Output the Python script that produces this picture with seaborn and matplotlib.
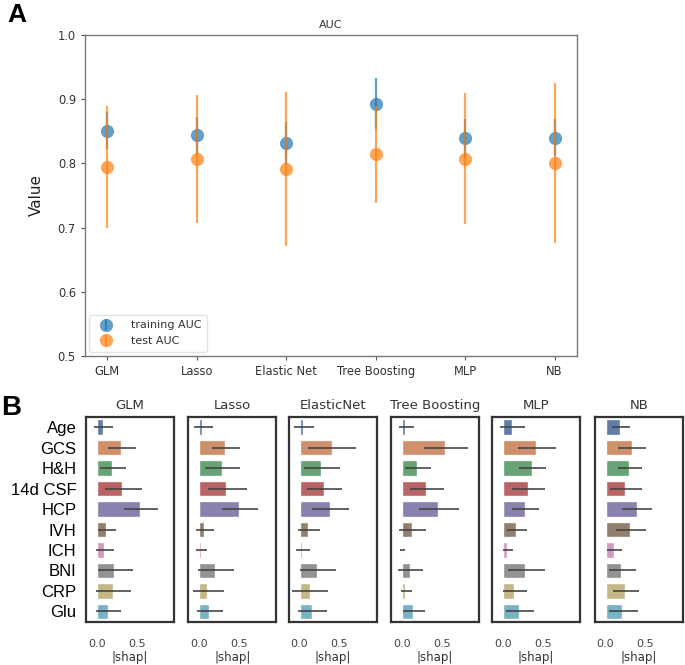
import numpy as np
import pandas as pd
import matplotlib
matplotlib.use("Agg")
import matplotlib.pyplot as plt
import seaborn as sns

# ---------------- Panel A data ----------------
models_a = ["GLM", "Lasso", "Elastic Net", "Tree Boosting", "MLP", "NB"]
train_auc = [0.851, 0.844, 0.831, 0.893, 0.839, 0.840]
train_err = [0.029, 0.029, 0.033, 0.040, 0.030, 0.029]
test_auc = [0.794, 0.807, 0.791, 0.814, 0.807, 0.801]
test_err = [0.095, 0.100, 0.120, 0.075, 0.102, 0.125]
yticks_a = [0.5, 0.6, 0.7, 0.8, 0.9, 1.0]

# ---------------- Panel B data ----------------
features = ["Age", "GCS", "H&H", "14d CSF", "HCP", "IVH", "ICH", "BNI", "CRP", "Glu"]
models_b = ["GLM", "Lasso", "ElasticNet", "Tree Boosting", "MLP", "NB"]

glm_mean = [0.075, 0.30, 0.19, 0.32, 0.54, 0.12, 0.09, 0.22, 0.20, 0.14]
glm_lo   = [-0.04, 0.14, 0.04, 0.10, 0.34, 0.01, -0.01, 0.01, -0.01, -0.01]
glm_hi   = [0.20, 0.49, 0.37, 0.56, 0.77, 0.24, 0.21, 0.45, 0.43, 0.30]

lasso_mean = [0.04, 0.325, 0.28, 0.34, 0.50, 0.06, 0.02, 0.20, 0.10, 0.125]
lasso_lo   = [-0.07, 0.16, 0.07, 0.11, 0.28, -0.04, -0.04, -0.02, -0.08, -0.03]
lasso_hi   = [0.17, 0.51, 0.51, 0.60, 0.74, 0.18, 0.10, 0.44, 0.31, 0.30]

enet_mean = [0.045, 0.40, 0.27, 0.30, 0.38, 0.11, 0.03, 0.22, 0.125, 0.15]
enet_lo   = [-0.07, 0.11, 0.06, 0.09, 0.15, -0.02, -0.05, 0.0, -0.09, -0.02]
enet_hi   = [0.18, 0.70, 0.50, 0.53, 0.62, 0.26, 0.125, 0.46, 0.35, 0.34]

tree_mean = [0.04, 0.545, 0.195, 0.30, 0.45, 0.125, 0.01, 0.10, 0.04, 0.14]
tree_lo   = [-0.03, 0.28, 0.045, 0.10, 0.21, -0.03, -0.025, -0.05, -0.01, 0.01]
tree_hi   = [0.15, 0.83, 0.36, 0.53, 0.71, 0.30, 0.045, 0.27, 0.125, 0.29]

mlp_mean = [0.115, 0.42, 0.36, 0.31, 0.28, 0.17, 0.055, 0.28, 0.14, 0.20]
mlp_lo   = [-0.03, 0.19, 0.20, 0.11, 0.12, 0.055, 0.0, 0.06, 0.0, 0.04]
mlp_hi   = [0.28, 0.67, 0.54, 0.525, 0.45, 0.30, 0.13, 0.525, 0.30, 0.39]

nb_mean = [0.18, 0.33, 0.29, 0.245, 0.39, 0.31, 0.10, 0.195, 0.245, 0.21]
nb_lo   = [0.075, 0.16, 0.15, 0.06, 0.21, 0.13, 0.02, 0.04, 0.09, 0.04]
nb_hi   = [0.30, 0.51, 0.45, 0.45, 0.58, 0.50, 0.21, 0.375, 0.42, 0.40]

shap_means = [glm_mean, lasso_mean, enet_mean, tree_mean, mlp_mean, nb_mean]
shap_los = [glm_lo, lasso_lo, enet_lo, tree_lo, mlp_lo, nb_lo]
shap_his = [glm_hi, lasso_hi, enet_hi, tree_hi, mlp_hi, nb_hi]
xticks_b = [0.0, 0.5]

sns.set_style("white")
plt.rcParams["font.family"] = ["DejaVu Sans"]

fig = plt.figure(figsize=(6.85, 6.65), dpi=100)

# ---------------- Panel A ----------------
W, H = 685.0, 665.0
axA = fig.add_axes([85 / W, 1 - 356 / H, 492 / W, 321 / H])
c_train = "#1f77b4"
c_test = "#ff7f0e"
axA.errorbar(models_a, train_auc, yerr=train_err, fmt="o", color=c_train,
             alpha=0.7, markersize=9.5, markeredgewidth=0, elinewidth=1.6,
             capsize=0, label="training AUC", zorder=2)
axA.errorbar(models_a, test_auc, yerr=test_err, fmt="o", color=c_test,
             alpha=0.7, markersize=9.5, markeredgewidth=0, elinewidth=1.6,
             capsize=0, label="test AUC", zorder=3)
axA.set_ylim(0.5, 1.0)
axA.set_xlim(-0.25, 5.25)
axA.set_yticks(yticks_a)
axA.set_title("AUC", fontsize=8, color="#333333", pad=5)
axA.set_ylabel("Value", fontsize=11, color="#222222", labelpad=10)
for sp in axA.spines.values():
    sp.set_color("#777777")
    sp.set_linewidth(1.0)
axA.tick_params(axis="both", which="major", labelsize=8.3, colors="#555555",
                labelcolor="#333333", length=3, width=0.8, direction="out",
                bottom=True, left=True)
leg = axA.legend(loc="lower left", fontsize=8, frameon=True,
                 borderpad=0.5, handletextpad=1.2, borderaxespad=0.4)
leg.get_frame().set_edgecolor("#dddddd")
for t in leg.get_texts():
    t.set_color("#333333")

fig.text(7 / W, 1 - 22 / H, "A", fontsize=19, fontweight="bold",
         family="Liberation Sans", color="black")

# ---------------- Panel B ----------------
lefts = [86, 188.3, 288.7, 391, 492, 594.7]
palette = sns.color_palette("deep", len(features))
for i, (name, mean, lo, hi) in enumerate(zip(models_b, shap_means, shap_los, shap_his)):
    ax = fig.add_axes([lefts[i] / W, 1 - 622 / H, 88 / W, 205 / H])
    df = pd.DataFrame({"feature": features, "shap": mean})
    sns.barplot(data=df, x="shap", y="feature", hue="feature", palette=palette,
                order=features, hue_order=features, errorbar=None, legend=False,
                width=0.76, saturation=0.75, alpha=0.95, ax=ax)
    ax.hlines(y=features, xmin=lo, xmax=hi, color="#424242", linewidth=1.3,
              alpha=0.9, zorder=5)
    ax.set_xlim(-0.135, 0.965)
    ax.set_ylim(9.52, -0.5)
    ax.set_xticks(xticks_b)
    ax.set_xticklabels(["0.0", "0.5"])
    ax.set_xlabel("|shap|", fontsize=8.5, color="#333333", labelpad=2)
    ax.set_ylabel("")
    ax.set_title(name, fontsize=9.5, color="#333333", pad=6)
    ax.tick_params(axis="x", length=0, pad=12, labelsize=8, labelcolor="#444444")
    if i == 0:
        ax.tick_params(axis="y", length=0, pad=7, labelsize=12, labelcolor="black")
        for lab in ax.get_yticklabels():
            lab.set_family("Liberation Sans")
    else:
        ax.set_yticklabels([])
        ax.tick_params(axis="y", length=0)
    for sp in ax.spines.values():
        sp.set_visible(True)
        sp.set_color("#333333")
        sp.set_linewidth(1.6)

fig.text(1 / W, 1 - 415 / H, "B", fontsize=20, fontweight="bold",
         family="Liberation Sans", color="black")

fig.savefig("out.png", dpi=100)
